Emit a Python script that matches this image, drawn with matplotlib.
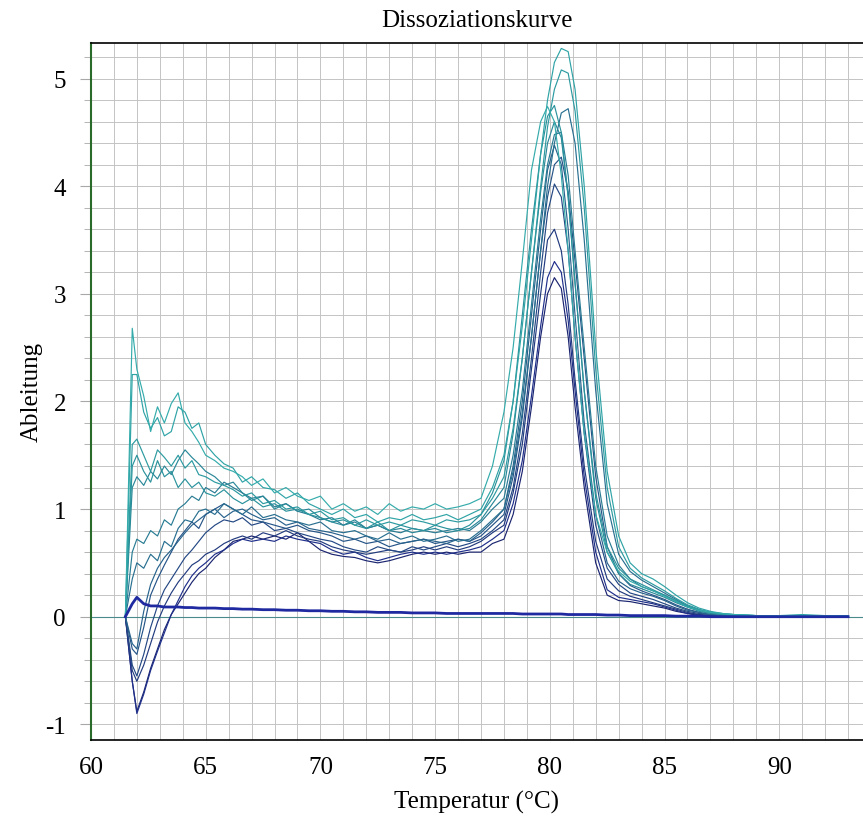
import matplotlib
matplotlib.use('Agg')
import matplotlib.pyplot as plt
from matplotlib.ticker import MultipleLocator

plt.rcParams['font.family'] = ['Liberation Serif', 'DejaVu Serif']
plt.rcParams['axes.unicode_minus'] = False

# Temperature grid (°C): pre-melt, peak, tail
temp_low = [61.5, 61.8, 62.0, 62.3, 62.6, 62.9, 63.2, 63.5, 63.8, 64.1,
            64.4, 64.7, 65.0, 65.4, 65.8, 66.2, 66.6, 67.0, 67.5, 68.0,
            68.5, 69.0, 69.5, 70.0, 70.5, 71.0, 71.5, 72.0, 72.5, 73.0,
            73.5, 74.0, 74.5, 75.0, 75.5, 76.0, 76.5, 77.0, 77.5]
temp_peak = [78.0, 78.4, 78.8, 79.2, 79.6, 79.9, 80.2, 80.5, 80.8, 81.1,
             81.5, 82.0, 82.5]
temp_tail = [83.0, 83.5, 84.0, 84.5, 85.0, 85.5, 86.0, 86.5, 87.0, 87.5,
             88.0, 89.0, 90.0, 91.0, 92.0, 93.0]
temps = temp_low + temp_peak + temp_tail

# derivative curves, one per well (teal -> navy)
c01 = ([0.0, 2.68, 2.3, 2.05, 1.72, 1.95, 1.8, 1.98, 2.08, 1.8,
        1.72, 1.62, 1.5, 1.45, 1.38, 1.35, 1.3, 1.22, 1.28, 1.15,
        1.2, 1.12, 1.08, 1.12, 1.0, 1.05, 0.98, 1.02, 0.95, 1.05,
        0.98, 1.02, 1.0, 1.05, 1.0, 1.02, 1.05, 1.1, 1.4]
       + [1.9, 2.5, 3.3, 4.15, 4.6, 4.74, 4.6, 4.1, 3.4, 2.6, 1.7, 0.95, 0.6]
       + [0.42, 0.33, 0.28, 0.24, 0.19, 0.14, 0.09, 0.06, 0.04, 0.03,
          0.02, 0.01, 0.01, 0.01, 0.01, 0.0])
c02 = ([0.0, 2.25, 2.25, 1.9, 1.75, 1.85, 1.68, 1.72, 1.95, 1.9,
        1.75, 1.8, 1.6, 1.5, 1.42, 1.38, 1.25, 1.3, 1.2, 1.18,
        1.1, 1.15, 1.05, 1.0, 0.95, 1.0, 0.92, 0.95, 0.88, 0.92,
        0.9, 0.95, 0.9, 0.92, 0.95, 0.9, 0.95, 1.0, 1.2]
       + [1.5, 2.0, 2.7, 3.5, 4.3, 4.8, 5.15, 5.28, 5.25, 4.9, 4.0, 2.5, 1.35]
       + [0.75, 0.5, 0.4, 0.35, 0.28, 0.2, 0.13, 0.08, 0.05, 0.03,
          0.02, 0.01, 0.01, 0.02, 0.01, 0.01])
c03 = ([0.0, 1.6, 1.65, 1.5, 1.35, 1.55, 1.48, 1.4, 1.5, 1.38,
        1.45, 1.32, 1.3, 1.25, 1.22, 1.18, 1.12, 1.15, 1.05, 1.08,
        1.0, 1.02, 0.95, 0.98, 0.9, 0.92, 0.85, 0.9, 0.85, 0.88,
        0.85, 0.9, 0.88, 0.85, 0.9, 0.88, 0.9, 0.95, 1.1]
       + [1.3, 1.75, 2.4, 3.2, 4.0, 4.55, 4.9, 5.08, 5.05, 4.7, 3.8, 2.3, 1.2]
       + [0.65, 0.45, 0.36, 0.3, 0.24, 0.17, 0.11, 0.07, 0.04, 0.03,
          0.02, 0.01, 0.01, 0.01, 0.01, 0.01])
c04 = ([0.0, 1.4, 1.5, 1.35, 1.25, 1.45, 1.3, 1.35, 1.2, 1.28,
        1.2, 1.25, 1.15, 1.12, 1.18, 1.1, 1.05, 1.1, 1.02, 1.05,
        0.98, 1.0, 0.95, 0.92, 0.88, 0.9, 0.85, 0.82, 0.88, 0.8,
        0.85, 0.82, 0.8, 0.85, 0.82, 0.8, 0.85, 0.95, 1.15]
       + [1.45, 2.0, 2.8, 3.6, 4.3, 4.65, 4.75, 4.5, 3.9, 3.1, 2.1, 1.15, 0.65]
       + [0.45, 0.35, 0.3, 0.25, 0.2, 0.15, 0.1, 0.06, 0.04, 0.02,
          0.02, 0.01, 0.01, 0.01, 0.01, 0.0])
c05 = ([0.0, 1.2, 1.3, 1.22, 1.35, 1.28, 1.4, 1.32, 1.45, 1.55,
        1.48, 1.42, 1.35, 1.3, 1.22, 1.25, 1.15, 1.08, 1.12, 1.0,
        1.05, 0.98, 1.0, 0.92, 0.88, 0.85, 0.9, 0.82, 0.85, 0.8,
        0.82, 0.78, 0.8, 0.82, 0.78, 0.8, 0.82, 0.9, 1.05]
       + [1.2, 1.7, 2.4, 3.2, 3.95, 4.4, 4.6, 4.45, 3.9, 3.1, 2.1, 1.1, 0.6]
       + [0.4, 0.3, 0.26, 0.22, 0.18, 0.13, 0.09, 0.05, 0.03, 0.02,
          0.01, 0.01, 0.01, 0.0, 0.01, 0.0])
c06 = ([0.0, 0.6, 0.72, 0.68, 0.8, 0.75, 0.9, 0.85, 1.0, 1.05,
        1.12, 1.08, 1.2, 1.15, 1.25, 1.2, 1.15, 1.1, 1.12, 1.02,
        1.05, 0.98, 0.95, 0.9, 0.92, 0.85, 0.88, 0.82, 0.85, 0.8,
        0.78, 0.82, 0.8, 0.78, 0.8, 0.82, 0.8, 0.88, 1.0]
       + [1.1, 1.5, 2.1, 2.9, 3.7, 4.2, 4.48, 4.5, 4.1, 3.4, 2.5, 1.4, 0.75]
       + [0.48, 0.35, 0.28, 0.24, 0.2, 0.14, 0.09, 0.06, 0.04, 0.02,
          0.01, 0.01, 0.0, 0.01, 0.0, 0.0])
c07 = ([0.0, 0.35, 0.5, 0.45, 0.58, 0.52, 0.7, 0.65, 0.82, 0.9,
        0.88, 0.98, 1.0, 0.95, 1.05, 1.0, 0.95, 1.02, 0.92, 0.95,
        0.9, 0.88, 0.85, 0.88, 0.8, 0.78, 0.8, 0.75, 0.72, 0.78,
        0.72, 0.75, 0.7, 0.72, 0.75, 0.7, 0.72, 0.8, 0.9]
       + [1.0, 1.35, 1.9, 2.6, 3.4, 4.0, 4.4, 4.68, 4.72, 4.4, 3.5, 2.1, 1.05]
       + [0.58, 0.42, 0.34, 0.28, 0.22, 0.16, 0.1, 0.06, 0.04, 0.02,
          0.01, 0.01, 0.01, 0.01, 0.0, 0.0])
c08 = ([0.0, -0.25, -0.3, 0.05, 0.3, 0.45, 0.55, 0.62, 0.7, 0.78,
        0.85, 0.9, 0.95, 1.0, 0.92, 0.98, 1.0, 0.95, 0.9, 0.92,
        0.85, 0.88, 0.82, 0.8, 0.78, 0.75, 0.72, 0.75, 0.7, 0.72,
        0.68, 0.7, 0.72, 0.7, 0.68, 0.72, 0.7, 0.78, 0.88]
       + [1.0, 1.4, 2.0, 2.8, 3.6, 4.15, 4.38, 4.2, 3.6, 2.8, 1.8, 0.95, 0.5]
       + [0.33, 0.26, 0.22, 0.19, 0.15, 0.1, 0.06, 0.04, 0.02, 0.01,
          0.01, 0.0, 0.01, 0.0, 0.0, 0.0])
c09 = ([0.0, -0.3, -0.35, -0.1, 0.2, 0.35, 0.48, 0.6, 0.72, 0.8,
        0.88, 0.82, 0.95, 1.0, 1.05, 1.0, 0.95, 0.9, 0.88, 0.85,
        0.82, 0.85, 0.8, 0.78, 0.75, 0.7, 0.72, 0.68, 0.7, 0.65,
        0.68, 0.7, 0.72, 0.68, 0.7, 0.72, 0.7, 0.75, 0.85]
       + [0.95, 1.3, 1.85, 2.6, 3.4, 3.9, 4.2, 4.27, 3.95, 3.3, 2.4, 1.3, 0.65]
       + [0.4, 0.29, 0.24, 0.2, 0.16, 0.11, 0.07, 0.04, 0.02, 0.01,
          0.01, 0.01, 0.0, 0.0, 0.0, 0.0])
c10 = ([0.0, -0.45, -0.55, -0.35, -0.1, 0.1, 0.25, 0.35, 0.45, 0.55,
        0.62, 0.7, 0.78, 0.85, 0.9, 0.88, 0.92, 0.85, 0.88, 0.8,
        0.82, 0.78, 0.75, 0.72, 0.7, 0.65, 0.62, 0.6, 0.65, 0.62,
        0.6, 0.65, 0.62, 0.65, 0.68, 0.65, 0.68, 0.72, 0.8]
       + [0.9, 1.2, 1.7, 2.4, 3.2, 3.75, 4.02, 3.9, 3.4, 2.6, 1.7, 0.85, 0.45]
       + [0.3, 0.22, 0.19, 0.16, 0.12, 0.08, 0.05, 0.03, 0.02, 0.01,
          0.0, 0.0, 0.01, 0.0, 0.0, 0.0])
c11 = ([0.0, -0.5, -0.6, -0.45, -0.25, -0.05, 0.1, 0.22, 0.32, 0.4,
        0.48, 0.52, 0.58, 0.62, 0.68, 0.72, 0.75, 0.72, 0.78, 0.75,
        0.8, 0.75, 0.72, 0.7, 0.65, 0.62, 0.6, 0.58, 0.6, 0.62,
        0.6, 0.62, 0.65, 0.62, 0.65, 0.62, 0.65, 0.7, 0.78]
       + [0.85, 1.15, 1.6, 2.3, 3.0, 3.5, 3.6, 3.4, 2.9, 2.2, 1.4, 0.7, 0.35]
       + [0.24, 0.19, 0.16, 0.13, 0.1, 0.07, 0.04, 0.02, 0.01, 0.01,
          0.0, 0.0, 0.0, 0.0, 0.0, 0.0])
c12 = ([0.0, -0.6, -0.9, -0.72, -0.5, -0.32, -0.15, 0.02, 0.15, 0.28,
        0.38, 0.45, 0.5, 0.58, 0.62, 0.68, 0.72, 0.7, 0.72, 0.7,
        0.75, 0.72, 0.7, 0.68, 0.62, 0.58, 0.6, 0.55, 0.52, 0.55,
        0.58, 0.6, 0.58, 0.6, 0.58, 0.6, 0.62, 0.65, 0.72]
       + [0.8, 1.05, 1.45, 2.05, 2.7, 3.15, 3.3, 3.2, 2.75, 2.1, 1.3, 0.6, 0.25]
       + [0.18, 0.16, 0.14, 0.12, 0.09, 0.06, 0.03, 0.02, 0.01, 0.0,
          0.0, 0.0, 0.0, 0.0, 0.0, 0.0])
c13 = ([0.0, -0.6, -0.88, -0.7, -0.48, -0.3, -0.12, 0.02, 0.12, 0.22,
        0.32, 0.4, 0.45, 0.55, 0.62, 0.7, 0.72, 0.75, 0.72, 0.75,
        0.72, 0.78, 0.7, 0.62, 0.58, 0.56, 0.55, 0.52, 0.5, 0.52,
        0.55, 0.58, 0.6, 0.58, 0.6, 0.58, 0.6, 0.6, 0.68]
       + [0.72, 0.95, 1.35, 1.95, 2.6, 3.0, 3.15, 3.05, 2.6, 1.95, 1.2, 0.5, 0.2]
       + [0.15, 0.14, 0.12, 0.1, 0.08, 0.05, 0.03, 0.01, 0.01, 0.0,
          0.0, 0.0, 0.0, 0.0, 0.0, 0.0])
# no-template control, stays near zero
ntc = ([0.0, 0.12, 0.18, 0.12, 0.1, 0.1, 0.09, 0.09, 0.09, 0.085,
        0.085, 0.08, 0.08, 0.08, 0.075, 0.075, 0.07, 0.07, 0.065, 0.065,
        0.06, 0.06, 0.055, 0.055, 0.05, 0.05, 0.045, 0.045, 0.04, 0.04,
        0.04, 0.035, 0.035, 0.035, 0.03, 0.03, 0.03, 0.03, 0.03]
       + [0.03, 0.03, 0.025, 0.025, 0.025, 0.025, 0.025, 0.025, 0.02, 0.02,
          0.02, 0.02, 0.015]
       + [0.015, 0.01, 0.01, 0.01, 0.01, 0.005, 0.005, 0.005, 0.0, 0.0,
          0.0, 0.0, 0.0, 0.0, 0.0, 0.0])

curves = [c13, c12, c11, c10, c09, c08, c07, c06, c05, c04, c03, c02, c01]
colors = ['#1b2570', '#1f2f8a', '#223b7e', '#244884', '#265588', '#27628c',
          '#286f90', '#297c94', '#2a8898', '#2a929c', '#2c9aa0', '#2fa3a6',
          '#35abab']

fig = plt.figure(figsize=(8.63, 8.20), dpi=100)
ax = fig.add_axes([0.1054, 0.0967, 0.8946, 0.8496])

ax.axhline(0, color='#4a8a8a', lw=0.8, zorder=1)
for vals, col in zip(curves, colors):
    ax.plot(temps, vals, color=col, lw=0.85, zorder=2)
ax.plot(temps, ntc, color='#1f2aa0', lw=2.0, zorder=3)

ax.set_xlim(60, 93.65)
ax.set_ylim(-1.143, 5.33)
ax.xaxis.set_major_locator(MultipleLocator(5))
ax.xaxis.set_minor_locator(MultipleLocator(1))
ax.yaxis.set_major_locator(MultipleLocator(1))
ax.yaxis.set_minor_locator(MultipleLocator(0.2))
ax.grid(which='both', color='#c4c4c4', lw=0.7, zorder=0)
ax.set_axisbelow(True)

ax.tick_params(axis='x', which='both', length=0, pad=12, labelsize=18)
ax.tick_params(axis='y', which='major', length=8, color='#a8a8a8', pad=10, labelsize=18)
ax.tick_params(axis='y', which='minor', length=5, color='#a8a8a8')

ax.spines['right'].set_visible(False)
ax.spines['left'].set_color('#2a6a2a')
ax.spines['left'].set_linewidth(1.5)
ax.spines['top'].set_linewidth(1.2)
ax.spines['bottom'].set_linewidth(1.2)

ax.set_title('Dissoziationskurve', fontsize=18, pad=12)
ax.set_xlabel('Temperatur (°C)', fontsize=18, labelpad=8)
ax.set_ylabel('Ableitung', fontsize=18, labelpad=2)

fig.savefig('out.png', dpi=100)
plt.close(fig)
